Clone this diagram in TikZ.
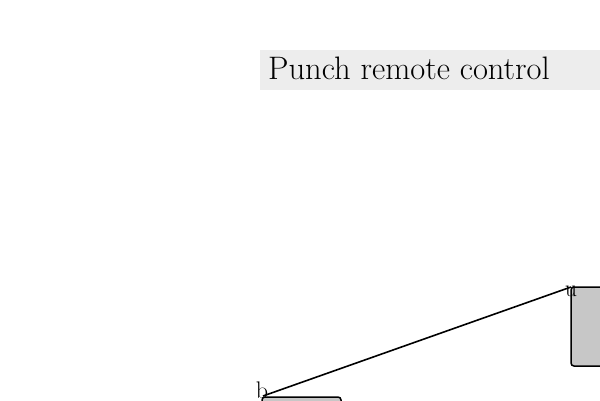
\documentclass[tikz,border=0pt]{standalone}
\begin{document}
\begin{tikzpicture}[x=1pt,y=-1pt,
  blk/.style={draw=black,line width=1.5pt,fill=black!22,rounded corners=3pt},
  lbl/.style={inner sep=0pt,font=\fontsize{24}{26}\selectfont},
  conn/.style={line width=1.6pt}]
\useasboundingbox (0,0) rectangle (600,400);
\fill[black!7] (260,50) rectangle (600,90);
\node[anchor=base west,inner sep=0pt,font=\fontsize{32.5}{36}\selectfont] (title) at (268,79) {Punch remote control};
\begin{scope}
\clip (0,0) rectangle (600,400);
\draw[blk] (571,287) rectangle (640,366);
\draw[blk] (262,397) rectangle (341,440);
\end{scope}
\coordinate (u) at (571,287);
\coordinate (b) at (263,396);
\node[lbl,anchor=base] (ul) at (571,296) {u};
\node[lbl,anchor=base] (bl) at (262,398) {b};
\draw[conn] (b) -- (u);
\end{tikzpicture}
\end{document}
